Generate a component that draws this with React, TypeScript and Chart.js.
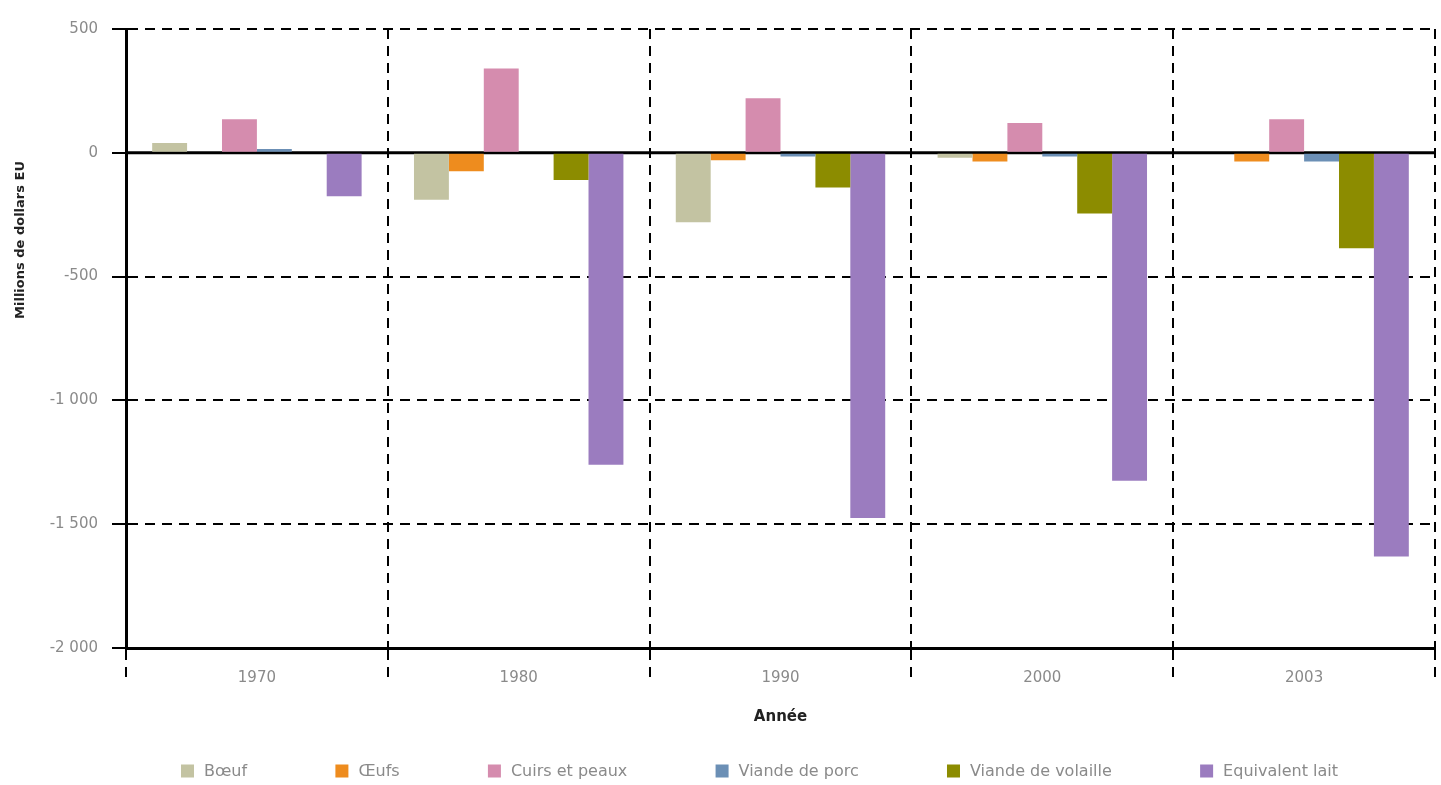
import React, { useEffect, useRef } from "react";
import { Chart, registerables } from "chart.js";

Chart.register(...registerables);

const years = ["1970", "1980", "1990", "2000", "2003"];
const seriesNames = ["Bœuf", "Œufs", "Cuirs et peaux", "Viande de porc", "Viande de volaille", "Equivalent lait"];
const boeuf = [40, -190, -280, -20, 0];
const oeufs = [0, -75, -30, -35, -35];
const cuirs = [135, 340, 220, 120, 135];
const porc = [15, 0, -15, -15, -35];
const volaille = [0, -110, -140, -245, -385];
const lait = [-175, -1260, -1475, -1325, -1630];
const seriesColors = ["#c3c3a2", "#ee8c1e", "#d58cae", "#6b8fb5", "#8c8c00", "#9b7cbf"];
const yTicks = [500, 0, -500, -1000, -1500, -2000];

const FONT = "'DejaVu Sans', 'Liberation Sans', sans-serif";

function fmt(v: number): string {
  const s = String(Math.abs(v)).replace(/\B(?=(\d{3})+(?!\d))/g, " ");
  return (v < 0 ? "-" : "") + s;
}

const zeroLinePlugin = {
  id: "zeroLine",
  beforeDatasetsDraw(chart: any) {
    const { ctx, chartArea, scales } = chart;
    const y = scales.y.getPixelForValue(0);
    ctx.save();
    ctx.strokeStyle = "#000";
    ctx.lineWidth = 3;
    ctx.setLineDash([]);
    ctx.beginPath();
    ctx.moveTo(chartArea.left, y);
    ctx.lineTo(chartArea.right, y);
    ctx.stroke();
    ctx.restore();
  },
};

const yTitlePlugin = {
  id: "yTitle",
  afterDraw(chart: any) {
    const { ctx } = chart;
    ctx.save();
    ctx.translate(21, 240);
    ctx.rotate(-Math.PI / 2);
    ctx.font = `bold 13px ${FONT}`;
    ctx.fillStyle = "#222";
    ctx.textAlign = "center";
    ctx.textBaseline = "middle";
    ctx.fillText("Millions de dollars EU", 0, 0);
    ctx.restore();
  },
};

// Bottom legend drawn from the chart's own datasets
const legendPlugin = {
  id: "bottomLegend",
  afterDraw(chart: any) {
    const { ctx } = chart;
    const startX = 181;
    const endX = 1338;
    const y = 771;
    const box = 13;
    const textGap = 10;
    ctx.save();
    ctx.font = `16px ${FONT}`;
    ctx.textBaseline = "middle";
    ctx.textAlign = "left";
    const ds = chart.data.datasets;
    const widths = ds.map((d: any) => box + textGap + ctx.measureText(d.label).width);
    const total = widths.reduce((a: number, b: number) => a + b, 0);
    const gap = (endX - startX - total) / (ds.length - 1);
    let x = startX;
    ds.forEach((d: any, i: number) => {
      ctx.fillStyle = d.backgroundColor;
      ctx.fillRect(x, y - box / 2, box, box);
      ctx.fillStyle = "#8a8a8a";
      ctx.fillText(d.label, x + box + textGap, y + 1);
      x += widths[i] + gap;
    });
    ctx.restore();
  },
};

export default function App() {
  const ref = useRef<HTMLCanvasElement | null>(null);
  useEffect(() => {
    if (!ref.current) return;
    const values = [boeuf, oeufs, cuirs, porc, volaille, lait];
    const chart = new Chart(ref.current, {
      type: "bar",
      data: {
        labels: years,
        datasets: seriesNames.map((n, i) => ({
          label: n,
          data: values[i],
          backgroundColor: seriesColors[i],
          borderWidth: 0,
          categoryPercentage: 0.8,
          barPercentage: 1,
        })),
      },
      options: {
        animation: false,
        responsive: false,
        maintainAspectRatio: false,
        layout: { padding: { top: 29, right: 6, left: 0, bottom: 0 } },
        plugins: {
          tooltip: { enabled: false },
          legend: { display: false },
        },
        scales: {
          x: {
            afterFit(scale: any) {
              scale.height = 137;
            },
            grid: {
              color: "#000",
              lineWidth: 2,
              offset: true,
              tickLength: 30,
              tickBorderDash: [10, 7],
              tickColor: "#000",
              tickWidth: 2,
            },
            border: { display: true, color: "#000", width: 3, dash: [10, 7] },
            ticks: { color: "#8a8a8a", font: { family: FONT, size: 15 }, padding: -9 },
            title: {
              display: true,
              text: "Année",
              color: "#222",
              font: { family: FONT, size: 15, weight: "bold" },
              padding: { top: 0, bottom: 59 },
            },
          },
          y: {
            min: -2000,
            max: 500,
            afterFit(scale: any) {
              scale.width = 126;
            },
            afterBuildTicks(scale: any) {
              scale.ticks = yTicks.map((v) => ({ value: v }));
            },
            grid: {
              color: (ctx: any) => (ctx.tick && ctx.tick.value === 0 ? "rgba(0,0,0,0)" : "#000"),
              lineWidth: 2,
              tickLength: 14,
              tickColor: "#000",
              tickWidth: 2,
            },
            border: { display: true, color: "#000", width: 3, dash: [10, 7] },
            ticks: {
              color: "#8a8a8a",
              font: { family: FONT, size: 15 },
              padding: 14,
              callback: (v: any) => fmt(Number(v)),
            },
          },
        },
      },
      plugins: [zeroLinePlugin, yTitlePlugin, legendPlugin],
    } as any);
    return () => chart.destroy();
  }, []);
  return (
    <div style={{ position: "fixed", left: 0, top: 0, width: 1441, height: 785, background: "#fff" }}>
      <canvas ref={ref} width={1441} height={785} style={{ width: 1441, height: 785 }} />
    </div>
  );
}
